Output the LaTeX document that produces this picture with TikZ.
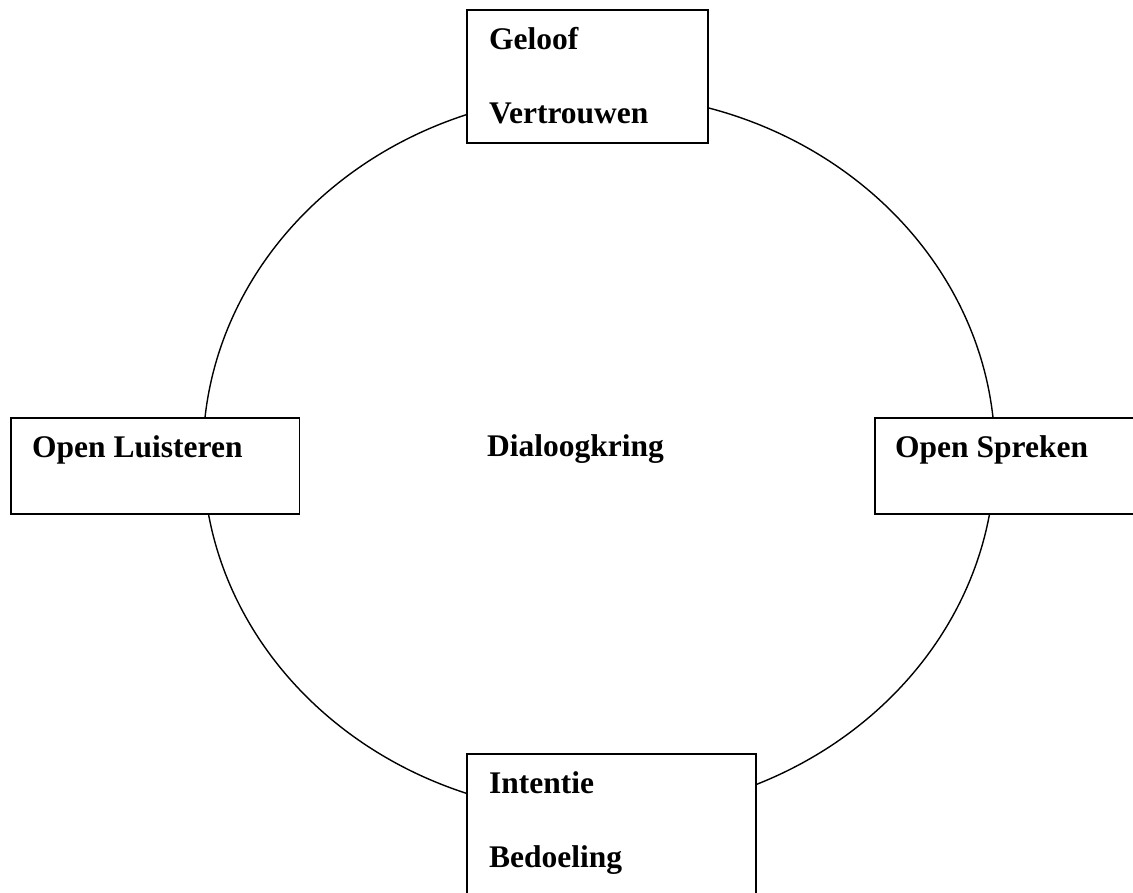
\documentclass[tikz,border=0pt]{standalone}
\usepackage{fontspec}
\setmainfont{Liberation Serif}
\begin{document}
\begin{tikzpicture}[x=1pt,y=1pt,
  boxline/.style={draw=black,line width=1.5pt,fill=white},
  lbl/.style={anchor=base west,inner sep=0pt,font=\fontsize{31.5}{36}\selectfont\bfseries}]
\useasboundingbox (0,0) rectangle (1133,892);
\clip (0,0) rectangle (1133,892);
\fill[white] (0,0) rectangle (1133,892);
% dialogue circle
\draw[line width=1.4pt] (599,438) ellipse [x radius=396, y radius=360];
% boxes
\draw[boxline] (467,749) rectangle (708,882);
\draw[boxline] (11,378) rectangle (299.5,474);
\draw[boxline] (875,378) rectangle (1145,474);
\draw[boxline] (467,-10) rectangle (756,138);
% texts
\node[lbl] (geloof) at (489,842) {Geloof};
\node[lbl] (vertrouwen) at (489,768) {Vertrouwen};
\node[lbl] (luisteren) at (32,434) {Open Luisteren};
\node[lbl] (spreken) at (895,434) {Open Spreken};
\node[lbl] (kring) at (487,435) {Dialoogkring};
\node[lbl] (intentie) at (489,98) {Intentie};
\node[lbl] (bedoeling) at (489,24) {Bedoeling};
\end{tikzpicture}
\end{document}
